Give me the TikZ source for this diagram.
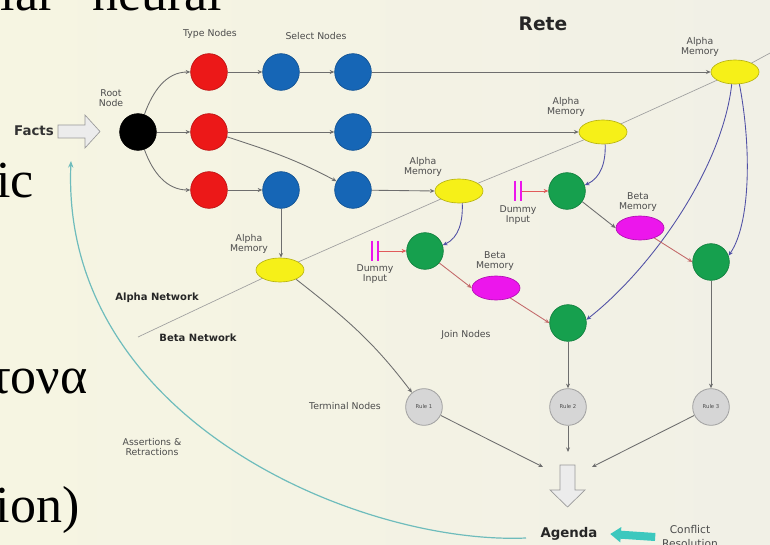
\documentclass[tikz,border=0pt]{standalone}
\usepackage{fontspec}
\setmainfont{Liberation Serif}
\newfontfamily\diafont{DejaVu Sans}
\usetikzlibrary{arrows.meta,shapes.geometric}

\definecolor{paperL}{RGB}{246,245,226}
\definecolor{paperR}{RGB}{241,240,230}
\definecolor{redN}{RGB}{236,24,24}
\definecolor{blueN}{RGB}{22,102,182}
\definecolor{greenN}{RGB}{22,160,78}
\definecolor{yellowN}{RGB}{246,240,24}
\definecolor{magN}{RGB}{236,22,236}
\definecolor{termfill}{RGB}{214,214,214}
\definecolor{termline}{RGB}{160,160,160}
\definecolor{linegray}{RGB}{110,110,110}
\definecolor{alphaline}{RGB}{80,80,165}
\definecolor{betaline}{RGB}{195,105,105}
\definecolor{dummyline}{RGB}{225,90,90}
\definecolor{tealA}{RGB}{60,200,190}
\definecolor{tealL}{RGB}{110,188,188}

\pgfdeclarelayer{bg}
\pgfsetlayers{bg,main}

\tikzset{
  ball/.style={circle, minimum size=27.5pt, inner sep=0pt, fill=#1, draw=#1!80!black, line width=0.5pt},
  mem/.style={ellipse, minimum width=36pt, minimum height=18pt, inner sep=0pt, fill=#1, draw=#1!75!black, line width=0.5pt},
  term/.style={circle, minimum size=27.5pt, inner sep=0pt, fill=termfill, draw=termline, line width=0.6pt,
    font=\diafont\fontsize{4}{4}\selectfont, text=black!70},
  dummybars/.style={minimum width=4.5pt, minimum height=15pt, inner sep=0pt},
  lab/.style={font=\diafont\fontsize{7}{7.5}\selectfont, text=black!70, align=center, inner sep=0pt},
  blab/.style={font=\diafont\bfseries\fontsize{7.5}{8}\selectfont, text=black!85, inner sep=0pt},
  slide/.style={font=\fontsize{39}{47}\selectfont, inner sep=0pt},
  tip/.style={-{Stealth[length=3.5pt,width=3pt]}},
  conn/.style={draw=linegray, line width=0.65pt, tip},
  aconn/.style={draw=alphaline, line width=0.65pt, tip},
  bconn/.style={draw=betaline, line width=0.65pt, tip},
  dconn/.style={draw=dummyline, line width=0.65pt, tip},
  hollow/.style={fill=white!85!gray, draw=gray!80, line width=0.5pt},
}

\begin{document}
\begin{tikzpicture}[x=0.75pt,y=-0.75pt]
\useasboundingbox (0,0) rectangle (770,545);
\begin{pgfonlayer}{bg}
  \shade[left color=paperL, right color=paperR] (0,0) rectangle (770,545);
\end{pgfonlayer}

% slide text on the left
\node[slide, anchor=base east] (s1a) at (56,11) {ular};
\node[slide, anchor=base west] (s1b) at (92,11) {neural};
\node[slide, anchor=base east] (s2) at (34,198) {ic};
\node[slide, anchor=base east] (s3) at (88,393) {τονα};
\node[slide, anchor=base east] (s4) at (80,522) {ion)};

% titles and captions
\node[font=\diafont\bfseries\fontsize{14}{14}\selectfont, text=black!85] (title) at (543,24) {Rete};
\node[lab] (ltype) at (210,34) {Type Nodes};
\node[lab] (lsel) at (316,36) {Select Nodes};
\node[lab] (lroot) at (111,98) {Root\\Node};
\node[font=\diafont\bfseries\fontsize{10}{10}\selectfont, text=black!80] (facts) at (34,131) {Facts};
\node[blab] (lalpha) at (157,298) {Alpha Network};
\node[blab] (lbeta) at (198,338) {Beta Network};
\node[lab] (ljoin) at (466,335) {Join Nodes};
\node[lab] (lterm) at (345,406) {Terminal Nodes};
\node[lab] (lassert) at (152,447) {Assertions \&\\Retractions};
\node[font=\diafont\bfseries\fontsize{10}{10}\selectfont, text=black!85] (agenda) at (569,534) {Agenda};
\node[lab, font=\diafont\fontsize{8}{10.5}\selectfont] (conflict) at (690,537) {Conflict\\Resolution};

% memory captions
\node[lab] (la1) at (700,47) {Alpha\\Memory};
\node[lab] (la2) at (566,107) {Alpha\\Memory};
\node[lab] (la3) at (423,167) {Alpha\\Memory};
\node[lab] (la4) at (249,244) {Alpha\\Memory};
\node[lab] (lb1) at (638,202) {Beta\\Memory};
\node[lab] (lb2) at (495,261) {Beta\\Memory};
\node[lab] (ld1) at (518,215) {Dummy\\Input};
\node[lab] (ld2) at (375,274) {Dummy\\Input};

% root, type and select nodes
\node[ball=black] (root) at (138,132) {};
\node[ball=redN] (r1) at (209,72) {};
\node[ball=redN] (r2) at (209,132) {};
\node[ball=redN] (r3) at (209,190) {};
\node[ball=blueN] (b1a) at (281,72) {};
\node[ball=blueN] (b1b) at (353,72) {};
\node[ball=blueN] (b2) at (353,132) {};
\node[ball=blueN] (b3a) at (281,190) {};
\node[ball=blueN] (b3b) at (353,190) {};

% alpha and beta memories
\node[mem=yellowN] (a1) at (735,72) {};
\node[mem=yellowN] (a2) at (603,132) {};
\node[mem=yellowN] (a3) at (459,191) {};
\node[mem=yellowN] (a4) at (280,270) {};
\node[mem=magN] (be1) at (640,228) {};
\node[mem=magN] (be2) at (496,288) {};

% join nodes
\node[ball=greenN] (g1) at (567,191) {};
\node[ball=greenN] (g2) at (425,251) {};
\node[ball=greenN] (g3) at (711,262) {};
\node[ball=greenN] (g4) at (568,323) {};

% dummy inputs
\node[dummybars] (d1) at (518,191) {};
\node[dummybars] (d2) at (375,251) {};
\draw[magN, line width=1.4pt] (d1.north west) -- (d1.south west) (d1.north east) -- (d1.south east);
\draw[magN, line width=1.4pt] (d2.north west) -- (d2.south west) (d2.north east) -- (d2.south east);

% terminal nodes
\node[term] (t1) at (424,407) {Rule 1};
\node[term] (t2) at (568,407) {Rule 2};
\node[term] (t3) at (711,407) {Rule 3};

% hollow arrows
\draw[hollow] (58,125) -- (85,125) -- (85,115) -- (100,131.5) -- (85,148) -- (85,138) -- (58,138) -- cycle;
\draw[hollow] (560,465) -- (575,465) -- (575,490) -- (585,490) -- (567.5,507) -- (550,490) -- (560,490) -- cycle;
\coordinate (inL) at (543,467);
\coordinate (inM) at (568,452);
\coordinate (inR) at (592,467);

% ends of the feedback curve and the divider
\coordinate (retS) at (526,538);
\coordinate (retE) at (71,161);
\coordinate (sepL) at (138,337);
\coordinate (sepR) at (772,52);

\begin{pgfonlayer}{bg}
  % alpha / beta divider
  \draw[gray!75, line width=0.5pt] (sepL) -- (a4.center) -- (a3.center) -- (a2.center) -- (a1.center) -- (sepR);

  % alpha network
  \draw[conn] (root.70) to[out=70,in=180] (r1.west);
  \draw[conn] (root) -- (r2);
  \draw[conn] (root.-70) to[out=-70,in=180] (r3.west);
  \draw[conn] (r1) -- (b1a);
  \draw[conn] (b1a) -- (b1b);
  \draw[conn] (b1b) -- (a1.west);
  \draw[conn] (r2) -- (b2);
  \draw[conn] (b2) -- (a2.west);
  \draw[conn] (r2.-15) to[out=-18,in=152] (b3b.152);
  \draw[conn] (r3) -- (b3a);
  \draw[conn] (b3b) -- (a3.west);
  \draw[conn] (b3a) -- (a4.north -| b3a);

  % beta network
  \draw[aconn] (a2.-80) to[out=-88,in=25] (g1.18);
  \draw[aconn] (a3.-75) to[out=-88,in=25] (g2.18);
  \draw[aconn] (a1.-70) .. controls (752,150) and (750,225) .. (g3.20);
  \draw[aconn] (a1.-105) .. controls (722,170) and (650,270) .. (g4.10);
  \draw[dconn] (d1.east) -- (g1.west);
  \draw[dconn] (d2.east) -- (g2.west);
  \draw[conn] (g1.-35) -- (be1.west);
  \draw[bconn] (be1.-35) -- (g3.west);
  \draw[bconn] (g2.-40) -- (be2.west);
  \draw[bconn] (be2.-35) -- (g4.west);

  % terminals and agenda
  \draw[conn] (a4.-30) to[out=-38,in=127] (t1.130);
  \draw[conn] (g4) -- (t2);
  \draw[conn] (g3) -- (t3);
  \draw[conn] (t1) -- (inL);
  \draw[conn] (t2) -- (inM);
  \draw[conn] (t3) -- (inR);

  % assertions and retractions feed back to the facts
  \draw[tealL, line width=0.9pt, -{Stealth[length=5pt,width=4pt]}]
    (retS) .. controls (360,545) and (60,420) .. (retE);
\end{pgfonlayer}

% conflict resolution arrow
\draw[tealA, line width=6pt, -{Triangle[length=8pt,width=11pt]}]
  ([xshift=-5pt]conflict.west) -- ([xshift=6pt]agenda.east);
\end{tikzpicture}
\end{document}
